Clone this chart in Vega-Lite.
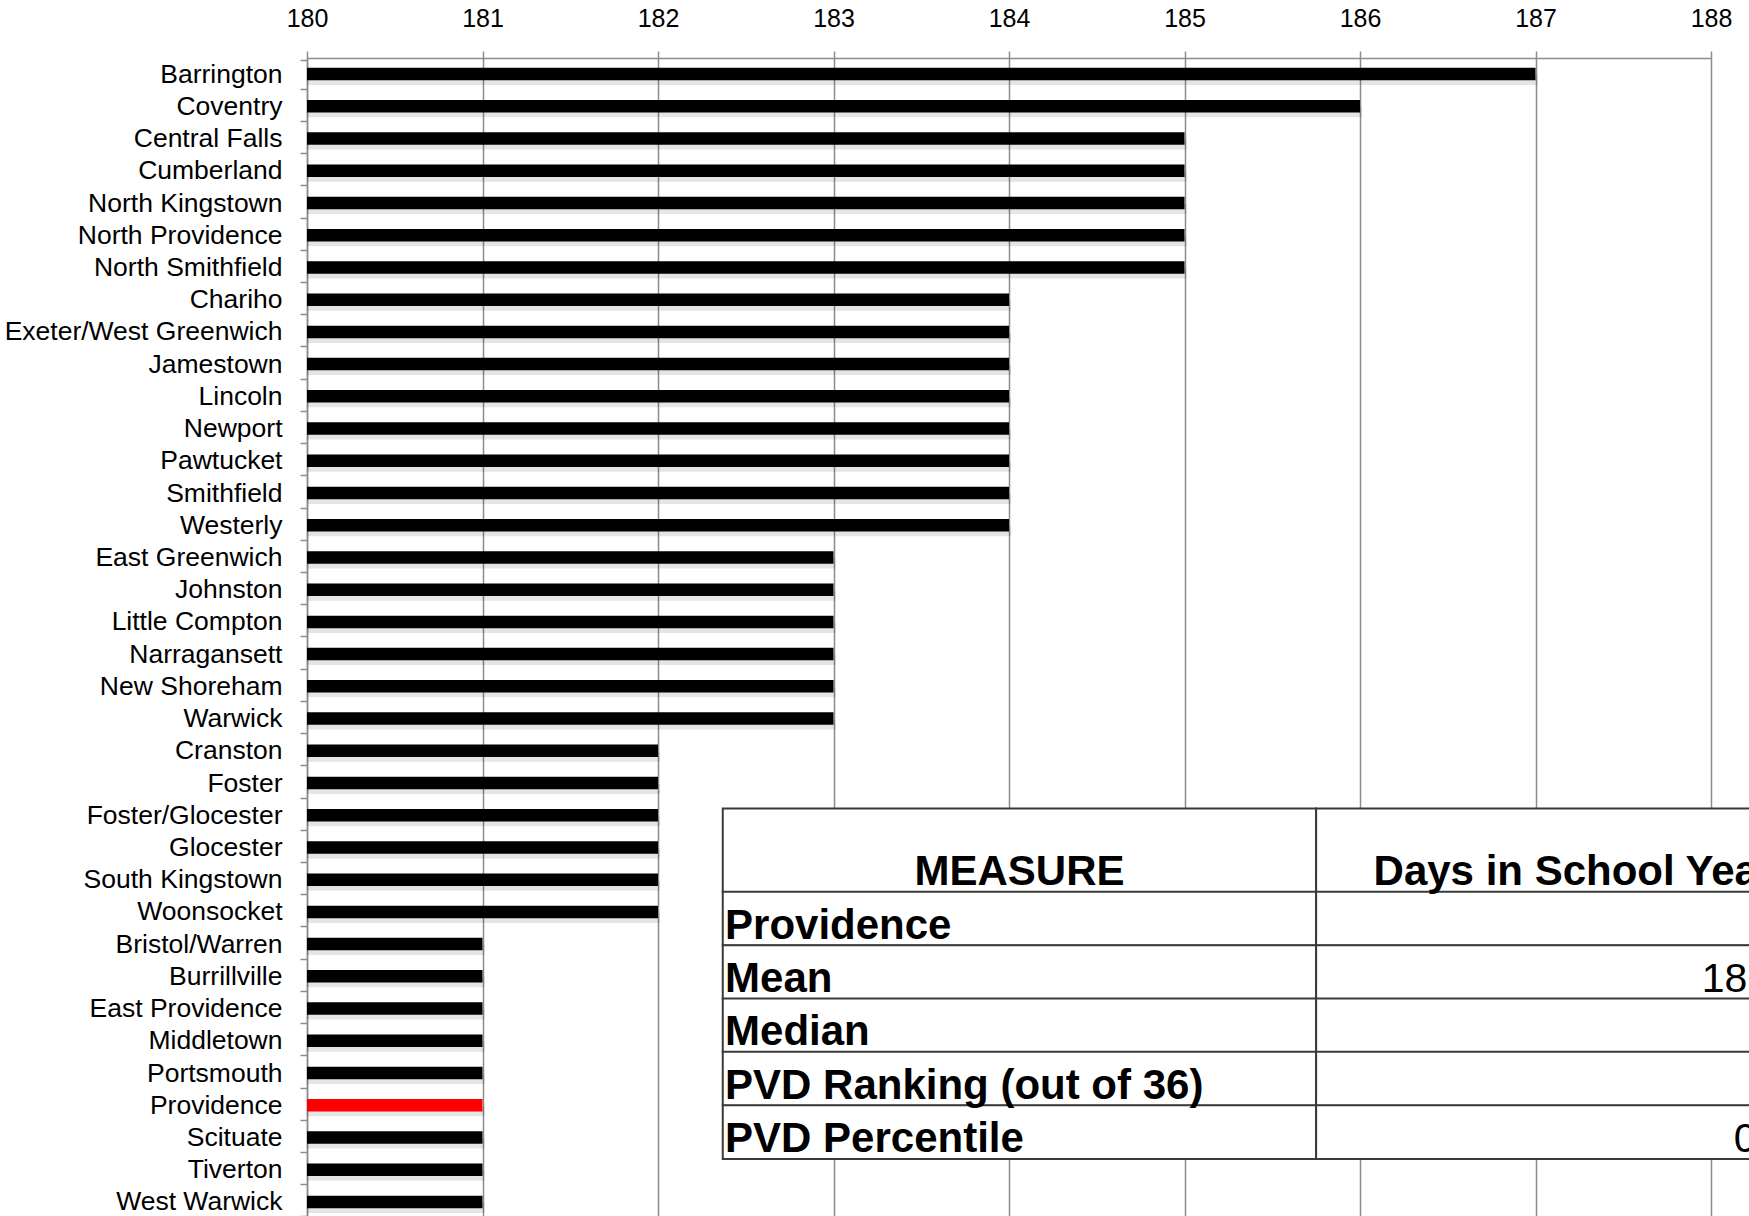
{
  "$schema": "https://vega.github.io/schema/vega-lite/v6.json",
  "autosize": {"type": "none"},
  "padding": {"left": 307, "top": 58, "right": 38, "bottom": 0},
  "width": 1404,
  "height": 1160,
  "background": "white",
  "config": {"view": {"stroke": null}, "font": "Liberation Sans"},
  "datasets": {
    "districts": [
      {"district": "Barrington", "days": 187},
      {"district": "Coventry", "days": 186},
      {"district": "Central Falls", "days": 185},
      {"district": "Cumberland", "days": 185},
      {"district": "North Kingstown", "days": 185},
      {"district": "North Providence", "days": 185},
      {"district": "North Smithfield", "days": 185},
      {"district": "Chariho", "days": 184},
      {"district": "Exeter/West Greenwich", "days": 184},
      {"district": "Jamestown", "days": 184},
      {"district": "Lincoln", "days": 184},
      {"district": "Newport", "days": 184},
      {"district": "Pawtucket", "days": 184},
      {"district": "Smithfield", "days": 184},
      {"district": "Westerly", "days": 184},
      {"district": "East Greenwich", "days": 183},
      {"district": "Johnston", "days": 183},
      {"district": "Little Compton", "days": 183},
      {"district": "Narragansett", "days": 183},
      {"district": "New Shoreham", "days": 183},
      {"district": "Warwick", "days": 183},
      {"district": "Cranston", "days": 182},
      {"district": "Foster", "days": 182},
      {"district": "Foster/Glocester", "days": 182},
      {"district": "Glocester", "days": 182},
      {"district": "South Kingstown", "days": 182},
      {"district": "Woonsocket", "days": 182},
      {"district": "Bristol/Warren", "days": 181},
      {"district": "Burrillville", "days": 181},
      {"district": "East Providence", "days": 181},
      {"district": "Middletown", "days": 181},
      {"district": "Portsmouth", "days": 181},
      {"district": "Providence", "days": 181},
      {"district": "Scituate", "days": 181},
      {"district": "Tiverton", "days": 181},
      {"district": "West Warwick", "days": 181}
    ],
    "table": [
      {"measure": "Providence", "value": "181", "row": 1},
      {"measure": "Mean", "value": "183.03", "row": 2},
      {"measure": "Median", "value": "183", "row": 3},
      {"measure": "PVD Ranking (out of 36)", "value": "28", "row": 4},
      {"measure": "PVD Percentile", "value": "0.0%", "row": 5}
    ],
    "header": [
      {"measure": "MEASURE", "value": "Days in School Year"}
    ]
  },
  "resolve": {"scale": {"y": "independent"}, "axis": {"y": "independent"}},
  "layer": [
    {
      "layer": [
        {
          "data": {"name": "districts"},
          "mark": {"type": "bar", "size": 10, "color": "#000000", "opacity": 0.1, "yOffset": 6, "xOffset": 2},
          "encoding": {
            "y": {
              "field": "district", "type": "nominal", "sort": null,
              "axis": {
                "orient": "left", "title": null, "domain": true, "domainColor": "#8c8c8c", "domainWidth": 1.5,
                "ticks": true, "tickBand": "extent", "tickSize": 7, "tickColor": "#8c8c8c", "tickWidth": 1.5,
                "labelFontSize": 26.5, "labelColor": "#000000", "labelPadding": 18, "labelFont": "Liberation Sans",
                "labelLimit": 400, "grid": false
              }
            },
            "x": {"field": "days", "type": "quantitative"},
            "x2": {"datum": 180}
          }
        },
        {
          "data": {"name": "districts"},
          "mark": {"type": "bar", "size": 12.5},
          "encoding": {
            "y": {
              "field": "district", "type": "nominal", "sort": null,
              "axis": {
                "orient": "left", "title": null, "domain": true, "domainColor": "#8c8c8c", "domainWidth": 1.5,
                "ticks": true, "tickBand": "extent", "tickSize": 7, "tickColor": "#8c8c8c", "tickWidth": 1.5,
                "labelFontSize": 26.5, "labelColor": "#000000", "labelPadding": 18, "labelFont": "Liberation Sans",
                "labelLimit": 400, "grid": false
              }
            },
            "x": {
              "field": "days", "type": "quantitative",
              "scale": {"domain": [180, 188], "nice": false, "zero": false},
              "axis": {
                "orient": "top", "title": null, "values": [180, 181, 182, 183, 184, 185, 186, 187, 188], "format": "d",
                "grid": true, "gridColor": "#8c8c8c", "gridWidth": 1.5, "gridOpacity": 1,
                "domain": true, "domainColor": "#8c8c8c", "domainWidth": 1.5,
                "ticks": true, "tickSize": 7, "tickColor": "#8c8c8c", "tickWidth": 1.5,
                "labelFlush": false, "labelAlign": "center", "labelOverlap": false,
                "labelFontSize": 25, "labelColor": "#000000", "labelPadding": 20, "labelFont": "Liberation Sans"
              }
            },
            "x2": {"datum": 180},
            "color": {
              "condition": {"test": "datum.district === 'Providence'", "value": "#ff0000"},
              "value": "#000000"
            }
          }
        }
      ]
    },
    {
      "layer": [
        {
          "data": {"name": "header"},
          "mark": {"type": "bar", "size": 83.9, "fill": "white", "stroke": "#3a3a3a", "strokeWidth": 2, "orient": "horizontal"},
          "encoding": {
            "y": {"datum": -0.28, "type": "quantitative", "scale": {"domain": [-15.037, 6.516], "reverse": true, "nice": false, "zero": false}, "axis": null},
            "x": {"datum": 182.369},
            "x2": {"datum": 185.75}
          }
        },
        {
          "data": {"name": "header"},
          "mark": {"type": "bar", "size": 83.9, "fill": "white", "stroke": "#3a3a3a", "strokeWidth": 2, "orient": "horizontal"},
          "encoding": {
            "y": {"datum": -0.28, "type": "quantitative"},
            "x": {"datum": 185.75},
            "x2": {"datum": 188.689}
          }
        },
        {
          "data": {"name": "table"},
          "mark": {"type": "bar", "size": 53.82, "fill": "white", "stroke": "#3a3a3a", "strokeWidth": 2, "orient": "horizontal"},
          "encoding": {
            "y": {"field": "row", "type": "quantitative"},
            "x": {"datum": 182.369},
            "x2": {"datum": 185.75}
          }
        },
        {
          "data": {"name": "table"},
          "mark": {"type": "bar", "size": 53.82, "fill": "white", "stroke": "#3a3a3a", "strokeWidth": 2, "orient": "horizontal"},
          "encoding": {
            "y": {"field": "row", "type": "quantitative"},
            "x": {"datum": 185.75},
            "x2": {"datum": 188.689}
          }
        },
        {
          "data": {"name": "header"},
          "mark": {"type": "text", "font": "Liberation Sans", "fontWeight": "bold", "fontSize": 42, "align": "center", "baseline": "alphabetic", "color": "#000000"},
          "encoding": {
            "y": {"datum": 0.375, "type": "quantitative"},
            "x": {"datum": 184.06},
            "text": {"field": "measure"}
          }
        },
        {
          "data": {"name": "header"},
          "mark": {"type": "text", "font": "Liberation Sans", "fontWeight": "bold", "fontSize": 42, "align": "center", "baseline": "alphabetic", "color": "#000000"},
          "encoding": {
            "y": {"datum": 0.375, "type": "quantitative"},
            "x": {"datum": 187.219},
            "text": {"field": "value"}
          }
        },
        {
          "data": {"name": "table"},
          "mark": {"type": "text", "font": "Liberation Sans", "fontWeight": "bold", "fontSize": 42, "align": "left", "baseline": "alphabetic", "dy": 20, "color": "#000000"},
          "encoding": {
            "y": {"field": "row", "type": "quantitative"},
            "x": {"datum": 182.382},
            "text": {"field": "measure"}
          }
        },
        {
          "data": {"name": "table"},
          "mark": {"type": "text", "font": "Liberation Sans", "fontSize": 41, "align": "right", "baseline": "alphabetic", "dy": 20, "color": "#000000"},
          "encoding": {
            "y": {"field": "row", "type": "quantitative"},
            "x": {"datum": 188.662},
            "text": {"field": "value"}
          }
        }
      ]
    }
  ]
}
